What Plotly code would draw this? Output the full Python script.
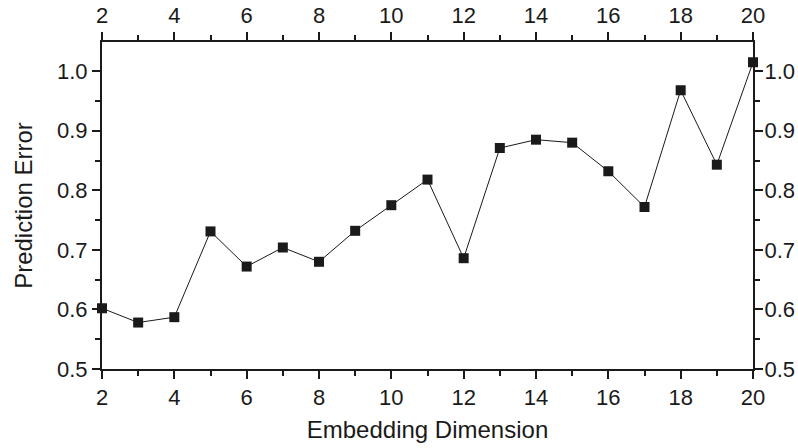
import plotly.graph_objects as go

dims = list(range(2, 21))
errors = [0.602, 0.578, 0.587, 0.731, 0.672, 0.704, 0.680, 0.732, 0.775, 0.818,
          0.686, 0.871, 0.885, 0.880, 0.832, 0.772, 0.968, 0.843, 1.015]

x_ticks = [2, 4, 6, 8, 10, 12, 14, 16, 18, 20]
y_ticks = [0.5, 0.6, 0.7, 0.8, 0.9, 1.0]
y_tick_text = ["0.5", "0.6", "0.7", "0.8", "0.9", "1.0"]
y_minor = [0.55, 0.65, 0.75, 0.85, 0.95]

FONT = "Liberation Sans, Arial, sans-serif"
INK = "#1a1a1a"

fig = go.Figure()
fig.add_trace(go.Scatter(
    x=dims, y=errors, mode="lines+markers",
    line=dict(color=INK, width=1),
    marker=dict(symbol="square", size=10, color=INK),
    showlegend=False, cliponaxis=False,
))
fig.add_trace(go.Scatter(
    x=dims, y=errors, mode="markers", xaxis="x2", yaxis="y2",
    marker=dict(opacity=0), showlegend=False, hoverinfo="skip",
))

xr = [2, 20]
yr = [0.5, 1.049]
common = dict(showline=True, linecolor=INK, linewidth=2, ticks="outside",
              ticklen=8, tickwidth=2, tickcolor=INK, showgrid=False, zeroline=False,
              automargin=False,
              tickfont=dict(family=FONT, size=22, color=INK))
xminor = dict(ticks="outside", dtick=1, ticklen=5, tickwidth=2, tickcolor=INK)
yminor = dict(ticks="outside", tickvals=y_minor, ticklen=5, tickwidth=2, tickcolor=INK)

fig.update_layout(
    width=798, height=448,
    margin=dict(l=102, r=45, t=42, b=79),
    paper_bgcolor="white", plot_bgcolor="white",
    xaxis=dict(range=xr, tickvals=x_ticks, title=dict(text="Embedding Dimension",
               font=dict(family=FONT, size=24, color=INK), standoff=12),
               minor=xminor, **common),
    xaxis2=dict(range=xr, tickvals=x_ticks, overlaying="x", side="top", anchor="y",
                minor=xminor, **common),
    yaxis=dict(range=yr, tickvals=y_ticks, ticktext=y_tick_text,
               title=dict(text="Prediction Error", font=dict(family=FONT, size=24, color=INK), standoff=18),
               minor=yminor, **common),
    yaxis2=dict(range=yr, tickvals=y_ticks, ticktext=y_tick_text, overlaying="y", side="right", anchor="x",
                minor=yminor, ticklabelstandoff=-3, **common),
)

fig.write_html("out.html")
